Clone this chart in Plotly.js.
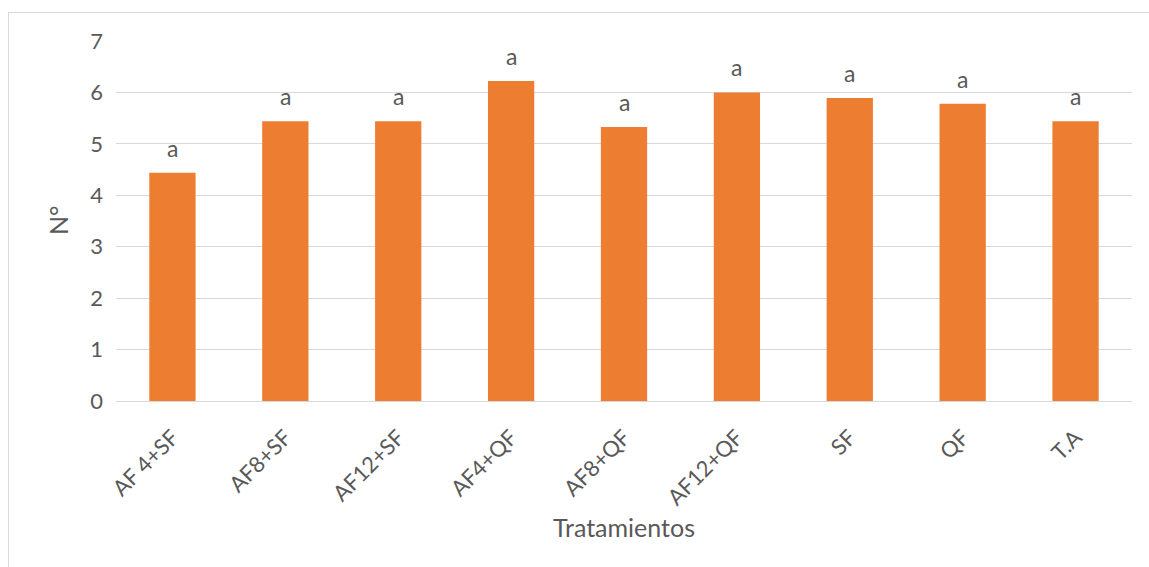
<!DOCTYPE html>
<html>
<head>
<meta charset="utf-8">
<script src="https://cdn.plot.ly/plotly-3.0.1.min.js"></script>
<style>
  html, body { margin: 0; padding: 0; overflow: hidden; background: #fff; }
  #chart { width: 1149px; height: 567px; position: absolute; left: 0; top: 0; }
  #frame { position: absolute; left: 8px; top: 12px; width: 2000px; height: 2000px;
           border: 1px solid #d9d9d9; box-sizing: border-box; pointer-events: none; }
</style>
</head>
<body>
<div id="chart"></div>
<div id="frame"></div>
<script>
const categories = ["AF 4+SF", "AF8+SF", "AF12+SF", "AF4+QF", "AF8+QF", "AF12+QF", "SF", "QF", "T.A"];
const values = [4.44, 5.44, 5.44, 6.22, 5.33, 6.00, 5.89, 5.78, 5.44];
const letters = ["a", "a", "a", "a", "a", "a", "a", "a", "a"];
const yTicks = [0, 1, 2, 3, 4, 5, 6, 7];
const xTitle = "Tratamientos";
const yTitle = "N°";

const FONT = "Lato, 'Open Sans', sans-serif";
const TXT = "#595959";

const trace = {
  type: "bar",
  x: categories,
  y: values,
  marker: { color: "#ED7D31", line: { width: 0 } },
  hoverinfo: "x+y"
};

const annotations = categories.map((c, i) => ({
  x: c, y: values[i], xref: "x", yref: "y",
  text: letters[i], showarrow: false,
  yanchor: "middle", yshift: 25,
  font: { family: FONT, size: 23, color: TXT }
}));
annotations.push({
  xref: "paper", yref: "paper", x: 0, y: 0.5,
  xanchor: "center", yanchor: "middle", xshift: -58,
  textangle: -90, showarrow: false, text: yTitle,
  font: { family: FONT, size: 25, color: TXT }
});

const layout = {
  width: 1149, height: 567,
  margin: { l: 116, r: 17, t: 41, b: 166, pad: 0 },
  paper_bgcolor: "rgba(0,0,0,0)",
  plot_bgcolor: "#fff",
  bargap: 0.59,
  showlegend: false,
  font: { family: FONT, size: 22, color: TXT },
  xaxis: {
    type: "category",
    tickangle: -45,
    ticks: "",
    showgrid: false,
    showline: true, linecolor: "#d9d9d9", linewidth: 1,
    tickfont: { family: FONT, size: 22, color: TXT },
    ticklabelstandoff: 14,
    automargin: false,
    title: { text: xTitle, font: { family: FONT, size: 25, color: TXT }, standoff: 10 }
  },
  yaxis: {
    range: [0, 7],
    tickvals: yTicks,
    ticktext: yTicks.map(String),
    ticks: "",
    showgrid: true, gridcolor: "#d9d9d9", gridwidth: 1,
    zeroline: false,
    showline: false,
    tickfont: { family: FONT, size: 22, color: TXT },
    ticklabelstandoff: 12,
    automargin: false
  },
  annotations: annotations
};

Plotly.newPlot("chart", [trace], layout, { displayModeBar: false, staticPlot: true });
</script>
</body>
</html>
